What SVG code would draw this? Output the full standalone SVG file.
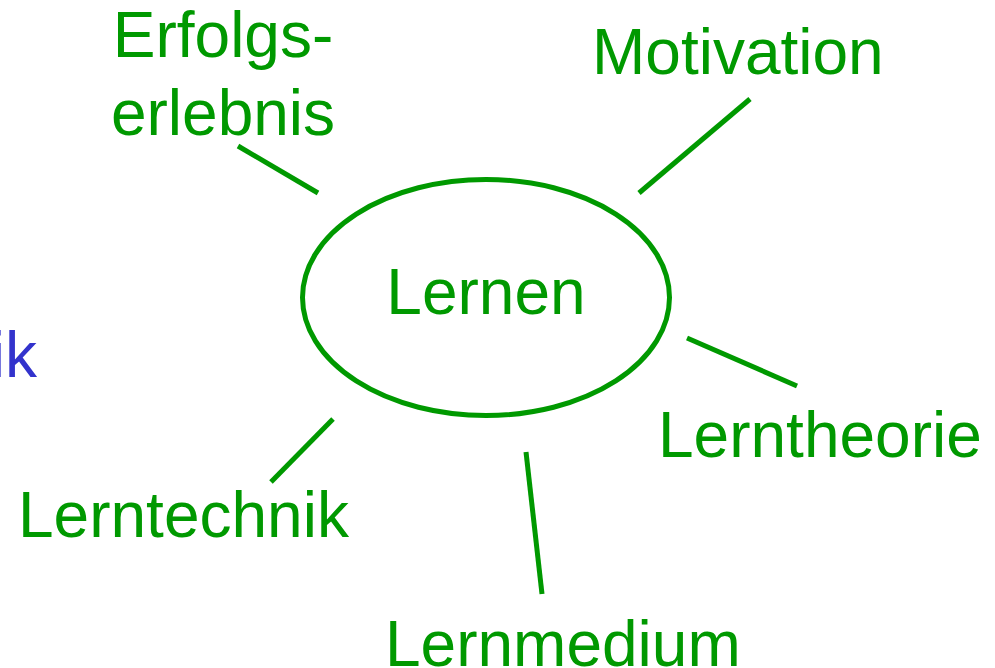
<svg xmlns="http://www.w3.org/2000/svg" width="995" height="668" viewBox="0 0 995 668">
<style>
.t{font-family:"Liberation Sans",Arial,sans-serif;font-size:64px;fill:#009900}
.b{fill:#3333cc}
.c{stroke:#009900;stroke-width:5;fill:none;stroke-linecap:butt}
</style>
<rect width="995" height="668" fill="#ffffff"/>
<g id="connectors">
<line class="c" x1="238" y1="146" x2="318" y2="193"/>
<line class="c" x1="750" y1="99" x2="639" y2="193"/>
<line class="c" x1="687" y1="338" x2="797" y2="386"/>
<line class="c" x1="526" y1="452" x2="542" y2="594"/>
<line class="c" x1="333" y1="419" x2="271" y2="482"/>
</g>
<g id="lernen">
<ellipse class="c" cx="486" cy="297.5" rx="183.5" ry="118"/>
<text class="t" x="486" y="314" text-anchor="middle">Lernen</text>
</g>
<g id="erfolgserlebnis">
<text class="t" x="223" y="57" text-anchor="middle">Erfolgs-</text>
<text class="t" x="223" y="135" text-anchor="middle">erlebnis</text>
</g>
<g id="motivation"><text class="t" x="592" y="74">Motivation</text></g>
<g id="lerntheorie"><text class="t" x="658" y="457">Lerntheorie</text></g>
<g id="lernmedium"><text class="t" x="385" y="666">Lernmedium</text></g>
<g id="lerntechnik"><text class="t" x="18" y="537">Lerntechnik</text></g>
<g id="ik"><text class="t b" x="37" y="377" text-anchor="end">ik</text></g>
</svg>
